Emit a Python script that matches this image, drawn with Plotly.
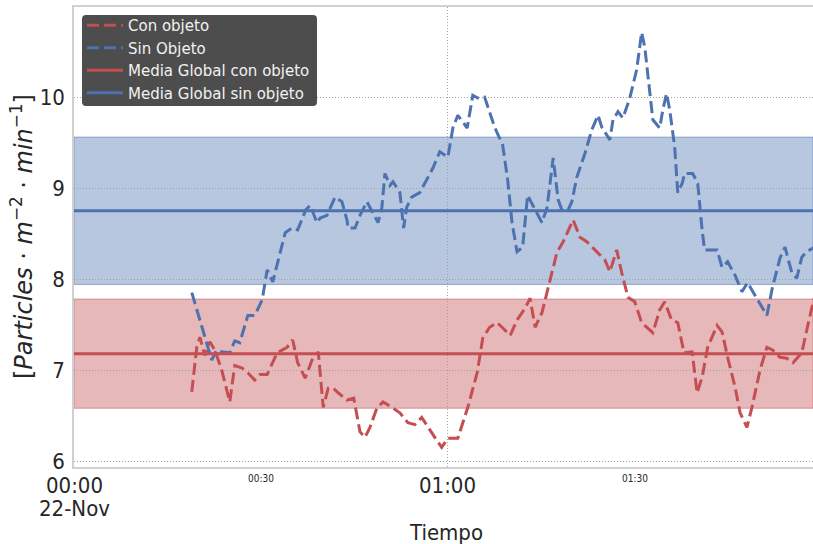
import pandas as pd
import plotly.graph_objects as go

# Sampling times (minutes after 00:00) and concentrations for each condition
t_con = [18.9, 19.7, 20.2, 21.0, 21.8, 22.6, 23.7, 25.0, 25.8, 27.0, 27.9, 29.0, 29.8, 31.0,
         32.6, 34.2, 35.1, 35.9, 37.1, 38.2, 39.2, 40.0, 40.8, 41.6, 42.4, 43.8, 44.9, 45.9,
         46.7, 47.5, 48.6, 49.6, 51.0, 52.3, 53.6, 54.7, 55.8, 56.8, 57.9, 59.0, 60.0, 61.6,
         63.2, 64.7, 65.6, 66.7, 67.9, 68.7, 70.0, 71.1, 72.4, 73.2, 74.0, 75.1, 76.1, 76.9,
         77.5, 78.5, 80.1, 81.2, 82.3, 83.6, 85.2, 86.0, 87.1, 87.9, 88.9, 90.0, 91.1, 92.9,
         94.0, 94.8, 95.9, 96.9, 97.9, 99.2, 100.0, 100.8, 101.7, 103.2, 104.0, 104.9, 106.1,
         106.9, 108.0, 108.8, 110.1, 111.2, 112.1, 113.3, 114.4, 115.4, 116.8, 117.6, 118.6, 119.4]
v_con = [6.76, 7.25, 7.36, 7.16, 7.31, 7.22, 7.00, 6.65, 7.05, 7.02, 6.97, 6.89, 6.95, 6.95,
         7.19, 7.25, 7.33, 7.08, 6.91, 7.11, 7.20, 6.59, 6.80, 6.80, 6.75, 6.67, 6.69, 6.32,
         6.26, 6.37, 6.58, 6.65, 6.59, 6.53, 6.42, 6.40, 6.48, 6.37, 6.26, 6.15, 6.25, 6.25,
         6.59, 6.97, 7.35, 7.47, 7.52, 7.47, 7.38, 7.55, 7.68, 7.79, 7.47, 7.63, 7.91, 8.10,
         8.29, 8.41, 8.65, 8.46, 8.41, 8.32, 8.21, 8.08, 8.32, 8.07, 7.80, 7.75, 7.52, 7.41,
         7.66, 7.75, 7.55, 7.52, 7.19, 7.20, 6.75, 6.92, 7.25, 7.49, 7.42, 7.14, 6.81,
         6.53, 6.37, 6.59, 7.00, 7.25, 7.22, 7.14, 7.13, 7.08, 7.19, 7.44, 7.74, 7.93]

t_sin = [18.9, 22.1, 22.9, 23.6, 25.0, 25.8, 26.6, 27.9, 29.0, 30.2, 31.0, 31.9, 33.9, 35.0,
         35.9, 37.2, 37.9, 39.0, 39.5, 40.6, 41.9, 43.0, 43.8, 44.0, 45.1, 45.9, 47.0, 47.8,
         48.8, 49.4, 49.9, 50.7, 51.2, 52.3, 52.9, 53.4, 54.2, 55.5, 56.3, 57.6, 58.7, 60.0,
         60.8, 61.6, 63.1, 64.0, 64.8, 65.9, 67.5, 68.8, 69.6, 70.3, 71.1, 72.0, 72.8, 74.0,
         75.1, 75.9, 76.9, 77.7, 78.3, 79.3, 79.9, 80.7, 82.0, 83.1, 84.1, 84.7, 85.5, 86.0,
         86.5, 87.3, 88.1, 89.2, 90.3, 91.1, 91.6, 92.1, 92.9, 94.0, 94.5, 95.1, 95.6, 96.4,
         96.9, 97.6, 98.0, 99.3, 100.1, 100.8, 101.2, 103.2, 104.0, 104.9, 106.1, 107.2, 108.1,
         109.3, 111.2, 112.1, 113.3, 114.1, 115.2, 116.0, 116.8, 117.6, 118.6, 119.7]
v_sin = [7.85, 7.11, 7.22, 7.20, 7.19, 7.32, 7.30, 7.60, 7.60, 7.77, 8.10, 7.97, 8.51, 8.56,
         8.54, 8.76, 8.81, 8.62, 8.67, 8.70, 8.90, 8.85, 8.65, 8.56, 8.56, 8.70, 8.85, 8.74,
         8.62, 8.78, 9.16, 9.03, 9.07, 8.95, 8.56, 8.79, 8.90, 8.95, 9.05, 9.22, 9.40, 9.34,
         9.66, 9.80, 9.66, 10.02, 9.99, 10.00, 9.67, 9.47, 9.09, 8.62, 8.30, 8.35, 8.92, 8.76,
         8.62, 8.78, 9.33, 8.87, 8.76, 8.76, 8.85, 9.12, 9.38, 9.64, 9.80, 9.67, 9.58, 9.53,
         9.75, 9.84, 9.77, 9.99, 10.30, 10.71, 10.55, 10.26, 9.75, 9.66, 9.86, 10.04, 9.86, 9.45,
         8.95, 9.05, 9.16, 9.16, 9.05, 8.54, 8.32, 8.32, 8.13, 8.19, 8.04, 7.86, 7.96,
         7.82, 7.60, 7.91, 8.23, 8.35, 8.07, 8.01, 8.24, 8.30, 8.34, 8.37]

# Global mean and standard deviation of each condition
mean_con, std_con = 7.18, 0.60
mean_sin, std_sin = 8.75, 0.81

series_names = ["Con objeto", "Sin Objeto", "Media Global con objeto", "Media Global sin objeto"]
major_tick_minutes = [0, 60]
major_tick_text = ["00:00", "01:00"]
date_label = "22-Nov"
minor_tick_minutes = [30, 90]
minor_tick_text = ["00:30", "01:30"]
y_ticks = [6, 7, 8, 9, 10]

RED = "#c44e52"
BLUE = "#4c72b0"
TEXT = "#262626"
TICK_FONT = "DejaVu Sans Condensed, DejaVu Sans, sans-serif"

W, H = 813, 544
ML, MR, MT, MB = 74, 0, 7, 77
PW, PH = W - ML - MR, H - MT - MB

base = pd.Timestamp("2021-11-22 00:00")


def at(minutes):
    return [base + pd.Timedelta(minutes=m) for m in minutes]


x_end = base + pd.Timedelta(minutes=118.6)


def px(x):
    return (x - ML) / PW


def py(y):
    return (MT + PH - y) / PH


fig = go.Figure()
fig.add_trace(go.Scatter(x=at(t_con), y=v_con, mode="lines", name=series_names[0],
                         line=dict(color=RED, width=3, dash="12px,5px")))
fig.add_trace(go.Scatter(x=at(t_sin), y=v_sin, mode="lines", name=series_names[1],
                         line=dict(color=BLUE, width=3, dash="12px,5px")))
fig.add_trace(go.Scatter(x=[base, x_end + pd.Timedelta(minutes=5)], y=[mean_con, mean_con],
                         mode="lines", name=series_names[2],
                         line=dict(color=RED, width=3)))
fig.add_trace(go.Scatter(x=[base, x_end + pd.Timedelta(minutes=5)], y=[mean_sin, mean_sin],
                         mode="lines", name=series_names[3],
                         line=dict(color=BLUE, width=3)))

# Mean ± one standard deviation bands
for m, s, rgb in [(mean_sin, std_sin, "76,114,176"), (mean_con, std_con, "196,78,82")]:
    fig.add_shape(type="rect", xref="paper", yref="y", x0=0, x1=1, y0=m - s, y1=m + s,
                  fillcolor=f"rgba({rgb},0.4)", line=dict(color=f"rgba({rgb},0.5)", width=1),
                  layer="below")

# Rounded dark legend background
bx0, bx1, by0, by1, r = px(82), px(317), py(15), py(106), 4
rx, ry = r / PW, r / PH
path = (f"M {bx0+rx},{by0} L {bx1-rx},{by0} Q {bx1},{by0} {bx1},{by0-ry} "
        f"L {bx1},{by1+ry} Q {bx1},{by1} {bx1-rx},{by1} L {bx0+rx},{by1} "
        f"Q {bx0},{by1} {bx0},{by1+ry} L {bx0},{by0-ry} Q {bx0},{by0} {bx0+rx},{by0} Z")
fig.add_shape(type="path", xref="paper", yref="paper", path=path,
              fillcolor="rgba(64,64,64,0.93)", line=dict(width=0), layer="above")

# Time labels: large at the hours, small at the half hours
for m, txt in zip(major_tick_minutes, major_tick_text):
    fig.add_annotation(x=base + pd.Timedelta(minutes=m), xref="x", y=py(485), yref="paper",
                       text=txt, showarrow=False, xanchor="center", yanchor="middle",
                       font=dict(family=TICK_FONT, size=22, color=TEXT))
fig.add_annotation(x=base, xref="x", y=py(509), yref="paper",
                   text=date_label, showarrow=False, xanchor="center", yanchor="middle",
                   font=dict(family=TICK_FONT, size=22, color=TEXT))
for m, txt in zip(minor_tick_minutes, minor_tick_text):
    fig.add_annotation(x=base + pd.Timedelta(minutes=m), xref="x", y=py(478), yref="paper",
                       text=txt, showarrow=False, xanchor="center", yanchor="middle",
                       font=dict(family=TICK_FONT, size=10, color=TEXT))

fig.add_annotation(x=px(446), y=py(532), xref="paper", yref="paper", text="Tiempo",
                   showarrow=False, xanchor="center", yanchor="middle",
                   font=dict(family=TICK_FONT, size=22, color=TEXT))
fig.add_annotation(x=px(22), y=py(237), xref="paper", yref="paper", textangle=-90,
                   text="[<i>Particles</i> · <i>m</i><sup>−2</sup> · <i>min</i><sup>−1</sup>]",
                   showarrow=False, xanchor="center", yanchor="middle",
                   font=dict(family="DejaVu Sans, sans-serif", size=24, color=TEXT))

fig.update_layout(
    width=W, height=H,
    margin=dict(l=ML, r=MR, t=MT, b=MB, pad=0),
    paper_bgcolor="white", plot_bgcolor="white",
    showlegend=True,
    legend=dict(x=px(82), y=py(9), xanchor="left", yanchor="top",
                bgcolor="rgba(0,0,0,0)", borderwidth=0,
                font=dict(family="DejaVu Sans, sans-serif", size=15, color="#f2f2f2"),
                itemwidth=36),
    xaxis=dict(type="date", range=[base, x_end],
               tickmode="array", tickvals=at(major_tick_minutes),
               showticklabels=False,
               showgrid=True, gridcolor="#a0a0a0", griddash="1px,2px", gridwidth=1,
               showline=True, linecolor="#d0d0d0", linewidth=1.5, mirror=True,
               ticks="", zeroline=False),
    yaxis=dict(range=[5.934, 10.99], tickmode="array", tickvals=y_ticks,
               tickfont=dict(family=TICK_FONT, size=22, color=TEXT),
               ticklabelstandoff=3,
               showgrid=True, gridcolor="#a0a0a0", griddash="1px,2px", gridwidth=1,
               showline=True, linecolor="#d0d0d0", linewidth=1.5,
               ticks="", zeroline=False),
)

fig.write_html("out.html")
